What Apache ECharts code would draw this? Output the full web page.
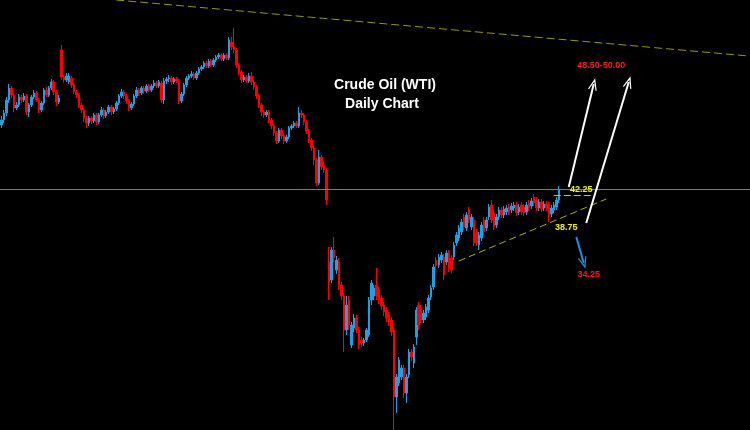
<!DOCTYPE html>
<html>
<head>
<meta charset="utf-8">
<script src="https://cdn.jsdelivr.net/npm/echarts@6/dist/echarts.min.js"></script>
<style>
html,body{margin:0;padding:0;background:#000;}
#chart{width:750px;height:430px;}
</style>
</head>
<body>
<div id="chart"></div>
<script>
// Daily bars: [open, close, low, high]
const candles = [
[48.7,49.2,48.4,49.6],[49.2,49.9,48.9,50.2],[49.9,51.2,49.6,51.5],[51.2,52.4,50.9,52.8],[52.4,51.7,51.4,52.6],
[51.7,50.4,50.0,51.9],[50.4,50.7,50.2,51.0],[50.7,51.5,50.5,51.8],[51.5,51.2,50.9,51.7],[51.2,51.6,51.0,51.9],
[51.6,50.0,49.7,51.8],[50.0,50.7,49.5,50.9],[50.7,51.5,50.5,51.7],[51.5,51.9,51.3,52.2],[51.9,51.2,51.0,52.1],
[51.2,50.2,49.9,51.4],[50.2,50.9,50.0,51.1],[50.9,52.2,50.7,52.4],[52.2,51.7,51.5,52.5],[51.7,52.4,51.5,52.6],
[52.4,53.0,52.2,53.3],[53.0,52.0,51.7,53.2],[52.0,51.0,50.6,52.2],[51.0,51.4,50.8,51.7],[56.2,53.5,53.2,56.7],
[53.5,53.2,52.9,53.7],[53.2,53.6,53.0,53.9],[53.0,53.6,52.8,53.9],[53.4,52.7,52.4,53.6],[52.7,52.0,51.8,52.9],
[52.0,51.7,51.4,52.2],[51.7,50.7,50.4,51.9],[50.7,50.2,49.9,50.9],[50.2,49.4,49.0,50.4],[49.4,48.9,48.4,49.6],
[48.9,49.4,48.6,49.6],[49.4,49.1,48.8,49.6],[49.1,49.7,48.9,49.9],[49.7,49.0,48.7,49.9],[49.0,49.7,48.8,49.9],
[49.7,50.2,49.5,50.5],[50.2,49.6,49.3,50.4],[49.6,50.0,49.4,50.2],[50.0,50.5,49.8,50.7],[50.5,50.0,49.7,50.7],
[50.0,50.3,49.8,50.5],[50.3,50.9,50.1,51.1],[50.9,51.6,50.7,51.8],[51.6,52.0,51.4,52.3],[52.0,51.6,51.3,52.2],
[51.6,51.1,50.8,51.8],[51.1,50.4,50.1,51.3],[50.4,50.8,50.2,51.0],[50.8,51.6,50.6,51.8],[51.6,52.2,51.4,52.5],
[52.2,51.9,51.6,52.4],[51.9,52.4,51.7,52.6],[52.4,52.1,51.8,52.6],[52.1,52.6,51.9,52.8],[52.6,52.2,52.0,52.8],
[52.2,52.6,52.0,52.8],[52.6,52.9,52.4,53.2],[52.9,52.6,52.4,53.1],[52.6,53.0,52.4,53.2],[52.9,51.2,50.9,53.1],
[51.2,53.1,50.8,53.4],[53.1,53.3,52.8,53.5],[53.3,53.4,53.0,53.7],[53.4,53.0,52.7,53.6],[53.0,53.3,52.8,53.5],
[53.3,53.1,52.9,53.5],[53.1,51.1,50.8,53.3],[51.1,51.8,50.9,52.0],[51.8,52.7,51.6,52.9],[52.7,53.4,52.5,53.6],
[53.4,53.6,53.2,53.8],[53.6,53.8,53.4,54.1],[53.8,53.4,53.2,54.0],[53.4,53.9,53.2,54.1],[53.9,54.3,53.7,54.5],
[54.3,54.5,54.1,54.7],[54.5,54.9,54.3,55.1],[54.9,54.6,54.4,55.1],[54.6,55.1,54.4,55.3],[55.1,54.7,54.5,55.3],
[54.7,55.2,54.5,55.4],[55.2,55.5,55.0,55.7],[55.5,55.7,55.3,55.9],[55.7,55.3,55.1,55.9],[55.3,55.7,55.1,55.9],
[55.7,55.4,55.2,55.9],[55.4,57.2,55.2,57.5],[57.0,56.5,56.2,57.5],[56.5,56.2,55.9,58.4],[56.2,54.7,54.4,56.4],
[54.7,54.0,53.7,54.9],[54.0,53.2,52.9,54.2],[53.2,53.5,53.0,53.7],[53.5,53.1,52.9,53.7],[53.1,53.6,52.9,53.9],
[53.6,53.0,52.7,54.0],[53.0,52.5,52.2,53.2],[52.5,51.6,51.3,52.7],[51.6,50.7,50.4,51.8],[50.7,50.0,49.6,50.9],
[50.0,49.7,49.4,50.2],[49.7,50.0,49.5,50.2],[50.0,49.2,48.9,50.2],[49.2,48.6,48.3,49.4],[48.6,47.9,47.6,48.8],
[47.9,47.1,46.8,48.1],[47.1,48.2,46.9,48.4],[48.2,47.6,47.3,48.4],[47.6,47.1,46.8,47.8],[47.1,47.5,46.9,47.7],
[47.5,48.4,47.3,48.6],[48.4,48.6,48.2,48.8],[48.6,48.9,48.4,49.1],[48.9,48.6,48.4,49.1],[48.6,49.9,48.4,50.5],
[49.9,49.7,49.4,50.2],[49.7,49.0,48.7,49.9],[49.0,48.1,47.8,49.2],[48.1,47.2,46.9,48.3],[47.2,46.4,46.1,47.4],
[46.4,45.2,44.7,46.6],[45.2,42.9,42.6,45.4],[42.9,45.5,42.7,46.2],[45.5,44.5,44.2,45.7],[44.7,44.2,43.9,45.0],
[44.2,41.2,40.7,44.4],[35.0,33.0,31.2,36.5],[33.2,36.2,32.9,36.5],[36.2,35.4,35.0,37.5],[34.2,35.2,33.8,35.6],
[35.0,32.7,32.2,35.4],[32.7,31.6,31.2,33.0],[31.6,28.2,26.0,31.9],[28.2,30.7,27.7,31.6],[31.2,28.7,28.2,31.6],
[26.7,28.7,26.4,29.0],[28.4,29.4,28.0,29.8],[29.4,28.2,27.9,29.7],[28.2,26.7,26.3,28.5],[27.2,26.9,26.5,27.5],
[26.9,27.2,26.6,27.4],[27.2,28.2,27.0,28.4],[27.7,31.2,27.5,31.5],[31.2,32.9,30.7,33.2],[31.6,32.4,31.2,32.7],
[32.7,31.6,31.2,34.4],[32.2,31.2,30.8,32.5],[31.4,30.6,30.2,31.7],[30.7,30.0,29.6,31.0],[30.2,29.4,29.0,30.5],
[29.7,29.0,28.6,30.0],[29.2,28.0,27.6,29.5],[28.2,21.5,18.2,28.5],[21.5,23.5,19.9,23.8],[22.9,25.2,22.6,25.5],
[23.5,24.4,23.2,24.7],[24.4,21.9,21.4,24.7],[21.9,23.5,20.9,23.8],[23.7,26.0,23.4,26.3],[26.0,25.5,25.1,26.3],
[24.9,26.5,24.4,26.8],[27.5,30.2,26.7,30.5],[30.7,28.7,28.2,31.0],[30.4,29.2,28.9,30.7],[29.2,29.9,28.9,30.2],
[29.5,30.5,29.2,30.8],[30.2,31.4,29.9,31.7],[31.5,32.4,31.2,32.7],[32.5,34.5,32.2,34.8],[35.2,34.6,34.2,35.5],
[34.7,35.5,34.4,35.8],[35.2,35.7,34.9,36.0],[35.5,33.7,33.2,35.8],[35.0,35.9,34.7,36.2],[35.9,34.4,34.0,36.2],
[35.4,34.2,33.9,35.7],[35.5,36.7,35.2,37.0],[36.9,37.7,36.6,38.0],[37.4,38.4,37.1,38.7],[38.0,39.0,37.7,39.3],
[39.5,38.5,38.2,39.8],[38.4,39.7,38.1,40.0],[40.2,39.2,38.9,40.5],[38.5,39.5,38.2,39.8],[39.2,36.9,36.6,39.5],
[38.0,36.9,36.6,38.3],[36.7,37.7,36.2,38.0],[37.4,38.7,37.1,39.0],[39.2,38.0,37.7,39.5],[38.4,39.2,38.1,39.5],
[39.5,40.5,39.2,40.8],[40.7,39.2,38.9,41.2],[39.9,38.5,38.2,40.2],[38.7,39.5,38.4,39.8],[39.5,40.2,39.2,40.5],
[40.2,39.7,39.4,40.5],[39.7,40.3,39.4,40.6],[40.0,40.4,39.7,40.7],[40.5,40.0,39.7,40.8],[40.2,40.6,39.9,40.9],
[40.4,40.7,40.1,41.0],[40.7,39.9,39.6,41.0],[40.0,40.5,39.7,40.8],[40.7,40.0,39.7,41.0],[40.5,39.9,39.6,40.8],
[40.0,40.7,39.7,41.0],[40.9,40.4,40.1,41.2],[40.6,41.1,40.3,41.4],[41.5,40.9,40.6,41.8],[41.2,40.4,40.1,41.5],
[40.4,41.0,40.1,41.3],[41.0,40.3,40.0,41.3],[40.4,40.8,40.1,41.1],[40.8,40.4,40.1,41.1],[40.7,39.7,39.0,41.0],
[39.8,40.4,39.5,40.7],[40.2,40.7,39.9,41.0],[40.5,41.2,40.2,41.5],[41.2,42.3,40.9,42.6]
];
// chart shift: empty future slots to the right of the last bar
const totalSlots = 300;
const categories = Array.from({length: totalSlots}, (_, i) => 'D' + (i + 1));

// annotation levels / points [slot, price]
const resistanceLevel = 42.25;
const priceLabels = [
  { text: '42.25', at: [232, 42.2], color: '#f2f200' },
  { text: '38.75', at: [226, 38.4], color: '#f2f200' },
  { text: '34.25', at: [235, 33.7], color: '#ff1a1a' },
  { text: '48.50-50.00', at: [240, 54.6], color: '#ff1a1a' }
];
const topTrend = [[46, 61.2], [299, 55.6]];
const supportTrend = [[183, 35.1], [242, 41.3]];
const levelDash = [[221, 41.7], [236, 41.7]];
const upArrow1 = [[227, 42.5], [237, 52.8]];
const upArrow2 = [[234, 38.9], [251, 53.0]];
const downArrow = [[230, 37.5], [233, 34.9]];

const chevron = 'path://M0,10 L5,0 L10,10 L8.6,10 L5,3 L1.4,10 Z';

function seg(pts, style, arrow, arrowColor) {
  return [
    { coord: pts[0], symbol: 'none', lineStyle: style },
    arrow ? { coord: pts[1], symbol: chevron, symbolSize: [9, 12], itemStyle: { color: arrowColor } }
          : { coord: pts[1], symbol: 'none' }
  ];
}

const chart = echarts.init(document.getElementById('chart'), null, { renderer: 'canvas' });
chart.setOption({
  backgroundColor: '#000000',
  animation: false,
  grid: { left: 0, right: 0, top: 0, bottom: 0 },
  xAxis: {
    type: 'category', data: categories, boundaryGap: true, show: false
  },
  yAxis: {
    type: 'value', min: 18.2, max: 61.2, show: false, splitLine: { show: false }
  },
  graphic: [
    {
      type: 'text', x: 385, y: 85,
      style: {
        text: 'Crude Oil (WTI)', fill: '#ffffff', align: 'center', verticalAlign: 'middle',
        font: 'bold 14px "Liberation Sans", Arial, sans-serif'
      }
    },
    {
      type: 'text', x: 382, y: 104,
      style: {
        text: 'Daily Chart', fill: '#ffffff', align: 'center', verticalAlign: 'middle',
        font: 'bold 14px "Liberation Sans", Arial, sans-serif'
      }
    }
  ],
  series: [{
    type: 'candlestick',
    data: candles,
    barWidth: 2,
    clip: false,
    itemStyle: {
      color: '#1e9fe6', color0: '#ff0000',
      borderColor: '#1e9fe6', borderColor0: '#ff0000', borderWidth: 1
    },
    emphasis: { disabled: true },
    markLine: {
      silent: true,
      symbol: 'none',
      label: { show: false },
      emphasis: { disabled: true },
      data: [
        { yAxis: resistanceLevel, lineStyle: { color: '#7c7c7c', width: 1, type: 'solid' } },
        seg(topTrend, { color: '#999900', width: 1, type: [8, 4] }),
        seg(supportTrend, { color: '#b0b000', width: 1, type: [7, 4] }),
        seg(levelDash, { color: '#c8c800', width: 1, type: [7, 3] }),
        seg(upArrow1, { color: '#ffffff', width: 2, type: 'solid' }, true, '#ffffff'),
        seg(upArrow2, { color: '#ffffff', width: 2, type: 'solid' }, true, '#ffffff'),
        seg(downArrow, { color: '#1e90e6', width: 2, type: 'solid' }, true, '#1e90e6')
      ]
    },
    markPoint: {
      silent: true,
      symbol: 'circle', symbolSize: 1,
      itemStyle: { color: 'rgba(0,0,0,0)' },
      data: priceLabels.map(p => ({
        coord: p.at,
        label: {
          show: true, position: 'inside', formatter: p.text, color: p.color,
          fontWeight: 'bold', fontSize: 9, fontFamily: '"Liberation Sans", Arial, sans-serif'
        }
      }))
    }
  }]
});
</script>
</body>
</html>
